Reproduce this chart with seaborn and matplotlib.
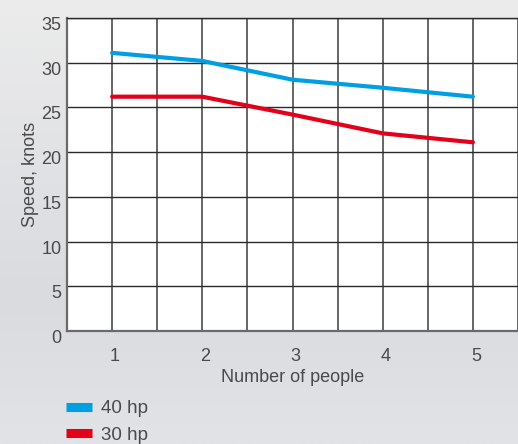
import numpy as np
import pandas as pd
import matplotlib
matplotlib.use("Agg")
import matplotlib.pyplot as plt
import matplotlib.transforms as mtransforms
from matplotlib.lines import Line2D
from matplotlib.ticker import MultipleLocator
import seaborn as sns

# values
people = [1, 2, 3, 4, 5]
speed_40hp = [31.1, 30.2, 28.1, 27.2, 26.2]
speed_30hp = [26.2, 26.2, 24.2, 22.1, 21.1]
series_names = ["40 hp", "30 hp"]
series_colors = ["#009fe3", "#e2001a"]

df = pd.DataFrame({
    "people": people * 2,
    "speed": speed_40hp + speed_30hp,
    "engine": [series_names[0]] * len(people) + [series_names[1]] * len(people),
})

sns.set_style("white")
plt.rcParams["font.family"] = ["Liberation Sans", "DejaVu Sans"]
text_col = "#4a4a4a"

fig = plt.figure(figsize=(5.18, 4.44), dpi=100)

# light grey sky-ish backdrop
bg = fig.add_axes([0, 0, 1, 1], zorder=-5)
grad = np.linspace(0, 1, 256).reshape(-1, 1)
cmap = matplotlib.colors.LinearSegmentedColormap.from_list(
    "sky", ["#ececec", "#e2e3e5", "#d9dbdf", "#e1e3e6"])
bg.imshow(grad, aspect="auto", cmap=cmap, extent=[0, 1, 0, 1])
bg.axis("off")

ax = fig.add_axes([67 / 518, 113 / 444, 451 / 518, 313 / 444])
ax.set_facecolor("white")

sns.lineplot(data=df, x="people", y="speed", hue="engine",
             hue_order=series_names, palette=series_colors,
             linewidth=3, legend=False, ax=ax, zorder=3)

ax.set_xlim(0.5, 5.5)
ax.set_ylim(0, 35)
ax.set_xticks(people)
ax.xaxis.set_minor_locator(MultipleLocator(0.5))
ax.set_yticks(range(0, 36, 5))

ax.grid(True, which="major", axis="y", color="#2a2a2a", linewidth=1)
ax.grid(True, which="both", axis="x", color="#666666", linewidth=1.4)
ax.set_axisbelow(True)

for side in ["left", "bottom"]:
    ax.spines[side].set_color("#6a6a6a")
    ax.spines[side].set_linewidth(1.6)
ax.spines["top"].set_color("#2a2a2a")
ax.spines["top"].set_linewidth(1)
ax.spines["right"].set_visible(False)

ax.tick_params(axis="both", which="both", length=0, labelsize=13,
               labelcolor=text_col)
ax.tick_params(axis="x", pad=12)
ax.tick_params(axis="y", pad=4)
shift_y = mtransforms.ScaledTranslation(0, -4 / 72, fig.dpi_scale_trans)
for lab in ax.get_yticklabels():
    lab.set_transform(lab.get_transform() + shift_y)
shift_x = mtransforms.ScaledTranslation(3 / 100, 0, fig.dpi_scale_trans)
for lab in ax.get_xticklabels():
    lab.set_transform(lab.get_transform() + shift_x)

ax.set_xlabel("Number of people", fontsize=13, color=text_col, labelpad=3)
ax.set_ylabel("Speed, knots", fontsize=13, color=text_col, labelpad=2)

handles = [Line2D([0], [0], color=c, linewidth=6.5, solid_capstyle="butt")
           for c in series_colors]
fig.legend(handles, series_names, loc="upper left",
           bbox_to_anchor=(66 / 518, 1 - 400 / 444), frameon=False,
           fontsize=13.5, labelcolor=text_col, handlelength=1.4,
           handletextpad=0.45, labelspacing=0.5, borderaxespad=0,
           borderpad=0)

plt.savefig("out.png", dpi=100)
